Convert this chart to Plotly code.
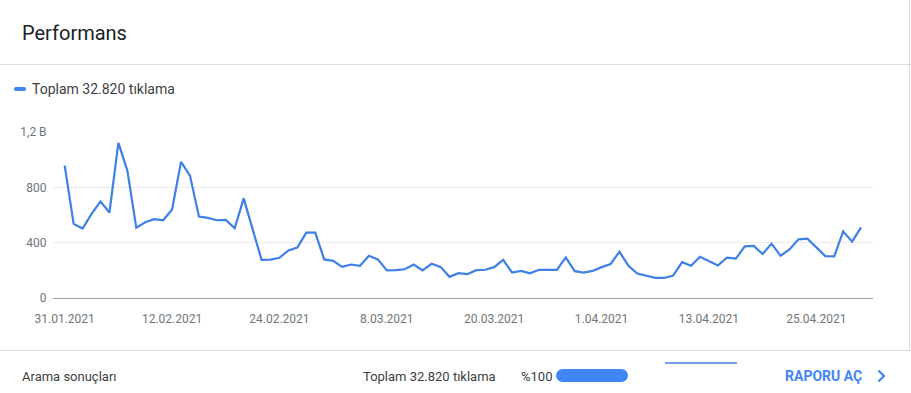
import pandas as pd
import plotly.graph_objects as go

# ---- data ----
start_date = "2021-01-31"
clicks = [957, 536, 502, 608, 698, 618, 1122, 921, 509, 548,
          570, 562, 640, 984, 885, 589, 579, 562, 565, 504,
          720, 495, 276, 278, 291, 344, 364, 473, 473, 279,
          269, 225, 242, 233, 305, 279, 199, 201, 208, 242,
          199, 247, 225, 153, 179, 172, 201, 204, 223, 276,
          184, 196, 179, 204, 206, 204, 293, 194, 184, 196,
          223, 245, 335, 233, 177, 162, 145, 145, 162, 259,
          233, 298, 267, 235, 291, 284, 373, 376, 318, 393,
          305, 351, 424, 429, 366, 303, 301, 482, 407, 511]
dates = pd.date_range(start_date, periods=len(clicks), freq="D")

x_tick_vals = ["2021-01-31", "2021-02-12", "2021-02-24", "2021-03-08",
               "2021-03-20", "2021-04-01", "2021-04-13", "2021-04-25"]
x_tick_text = ["31.01.2021", "12.02.2021", "24.02.2021", "8.03.2021",
               "20.03.2021", "1.04.2021", "13.04.2021", "25.04.2021"]
y_tick_vals = [0, 400, 800, 1200]
y_tick_text = ["0", "400", "800", "1,2 B"]

title_text = "Performans"
legend_text = "Toplam 32.820 tıklama"
footer_label = "Arama sonuçları"
footer_total = "Toplam 32.820 tıklama"
footer_pct = "%100"
footer_link = "RAPORU AÇ"

# ---- layout geometry (pixels) ----
WIDTH, HEIGHT = 911, 393
L, R, T, B = 53, 873, 132, 298
PW, PH = R - L, B - T

def px(x):
    return (x - L) / PW

def py(y):
    return (B - y) / PH

BLUE = "#4285f4"
LINE_BLUE = "#3f7fe6"
FONT = "Roboto"

fig = go.Figure()
fig.add_trace(go.Scatter(
    x=dates, y=clicks, mode="lines",
    line=dict(color=LINE_BLUE, width=2.2),
    hoverinfo="skip", showlegend=False,
))

shapes = []

def hline(x0, x1, y, color, width):
    shapes.append(dict(type="line", xref="paper", yref="paper",
                       x0=px(x0), x1=px(x1), y0=py(y), y1=py(y),
                       line=dict(color=color, width=width), layer="above"))

def vline(x, y0, y1, color, width):
    shapes.append(dict(type="line", xref="paper", yref="paper",
                       x0=px(x), x1=px(x), y0=py(y0), y1=py(y1),
                       line=dict(color=color, width=width), layer="above"))

def pill(x0, x1, y0, y1, color):
    r = (y1 - y0) / 2.0
    shapes.append(dict(type="rect", xref="paper", yref="paper",
                       x0=px(x0 + r), x1=px(x1 - r), y0=py(y0), y1=py(y1),
                       fillcolor=color, line=dict(width=0), layer="above"))
    for cx in (x0 + r, x1 - r):
        shapes.append(dict(type="circle", xref="paper", yref="paper",
                           x0=px(cx - r), x1=px(cx + r), y0=py(y0), y1=py(y1),
                           fillcolor=color, line=dict(width=0), layer="above"))

hline(0, WIDTH, 64.5, "#dadce0", 1)
hline(0, WIDTH, 350.5, "#dadce0", 1)
vline(909.5, 0, 350, "#dadce0", 1)
pill(14, 26, 87, 91, BLUE)
pill(556, 628, 369, 382, BLUE)
hline(665, 737, 363, "#4a80d9", 1.5)
shapes.append(dict(type="path", xref="paper", yref="paper",
                   path="M %f,%f L %f,%f L %f,%f" % (px(878.5), py(370.5), px(884), py(376), px(878.5), py(381.5)),
                   line=dict(color=BLUE, width=2.2), layer="above"))

def text(x, y, s, size, color, weight="normal", anchor="left"):
    if weight == "bold":
        s = "<b>" + s + "</b>"
    return dict(xref="paper", yref="paper", x=px(x), y=py(y), text=s,
                showarrow=False, xanchor=anchor, yanchor="middle",
                borderpad=0,
                font=dict(family=FONT, size=size, color=color))

annotations = [
    text(21, 33, title_text, 20, "#202124"),
    text(31, 89, legend_text, 14, "#3c4043"),
    text(21, 376, footer_label, 13, "#3c4043"),
    text(362, 376, footer_total, 13, "#3c4043"),
    text(520, 376, footer_pct, 13, "#3c4043"),
    text(784, 376, footer_link, 14, BLUE, weight="bold"),
]

fig.update_layout(
    width=WIDTH, height=HEIGHT,
    margin=dict(l=L, r=WIDTH - R, t=T, b=HEIGHT - B, pad=0),
    paper_bgcolor="white", plot_bgcolor="white",
    font=dict(family=FONT, size=12, color="#70757a"),
    shapes=shapes, annotations=annotations,
    showlegend=False,
    xaxis=dict(
        type="date",
        range=["2021-01-29 16:36", "2021-05-01 08:00"],
        tickmode="array", tickvals=x_tick_vals, ticktext=x_tick_text,
        showgrid=False, zeroline=False,
        showline=True, linecolor="#9aa0a6", linewidth=1,
        ticks="outside", ticklen=10, tickcolor="rgba(0,0,0,0)",
        tickfont=dict(family=FONT, size=12, color="#70757a"),
        fixedrange=True,
    ),
    yaxis=dict(
        range=[0, 1200],
        tickmode="array", tickvals=y_tick_vals, ticktext=y_tick_text,
        showgrid=True, gridcolor="#ebebeb", gridwidth=1,
        zeroline=False, showline=False,
        ticks="outside", ticklen=3, tickcolor="rgba(0,0,0,0)",
        tickfont=dict(family=FONT, size=12, color="#70757a"),
        fixedrange=True,
    ),
)

fig.write_html("out.html", config={"displayModeBar": False})
